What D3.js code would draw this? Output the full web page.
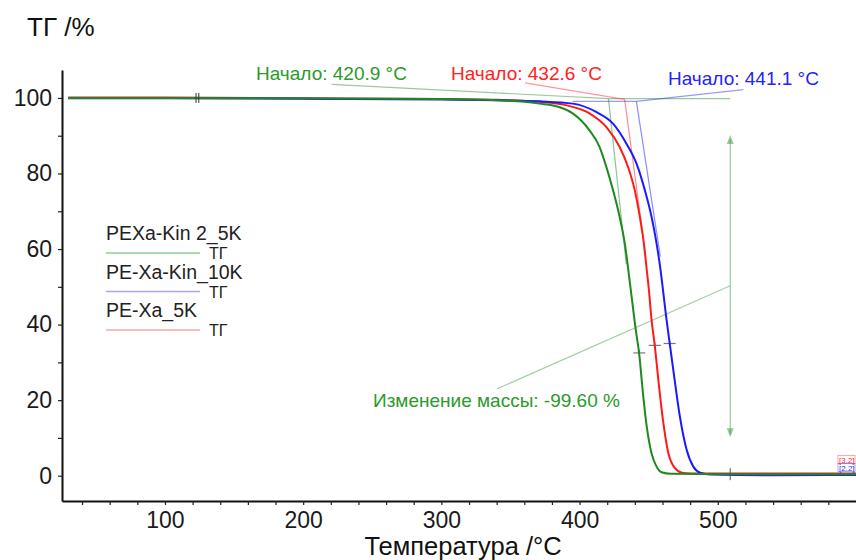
<!DOCTYPE html>
<html>
<head>
<meta charset="utf-8">
<script src="https://cdn.jsdelivr.net/npm/d3@7"></script>
<style>
  html, body { margin: 0; padding: 0; background: #fff; }
  svg { display: block; font-family: "Liberation Sans", Arial, sans-serif; }
</style>
</head>
<body>
<svg id="chart" width="856" height="560"></svg>
<script>
// TGA curves: temperature (°C) vs. residual mass (%)
const seriesNames = ["PEXa-Kin 2_5K", "PE-Xa-Kin_10K", "PE-Xa_5K"];
const seriesColors = ["#1e8a1e", "#1a1aff", "#ff1a1a"];
const legendColors = ["#8fd08f", "#a8a8f4", "#f4a8a8"];

const greenTG = [
  [30, 100.0], [100, 100.0], [200, 99.9], [300, 99.7], [340, 99.4], [360, 99.0],
  [371, 98.5], [385, 97.6], [395, 95.9], [407, 91.5], [414.5, 87.0], [419.4, 81.7],
  [424.2, 75.6], [429, 68.5], [432.7, 61.5], [436.2, 51.7], [440.3, 39.5],
  [443.2, 32.0], [445.8, 22.0], [448.4, 13.5], [452, 6.0], [455.7, 2.4],
  [459.3, 0.9], [466, 0.5], [520, 0.4], [600, 0.4]
];
const blueTG = [
  [30, 99.9], [100, 99.9], [200, 99.8], [300, 99.6], [340, 99.4], [371, 99.1],
  [395, 98.5], [412, 96.3], [424.2, 93.2], [433.9, 87.9], [441.2, 82.6],
  [447.2, 75.6], [452.1, 68.5], [455.7, 61.5], [458.6, 54.4], [460.4, 49.0],
  [462.4, 42.8], [465.2, 35.0], [468.8, 25.3], [472.6, 15.6], [477.5, 6.8],
  [482.3, 2.4], [487.2, 0.8], [495, 0.3], [540, 0.1], [600, 0.2]
];
const redTG = [
  [30, 100.1], [100, 100.1], [200, 99.9], [300, 99.7], [340, 99.5], [371, 99.0],
  [390, 98.1], [407.3, 95.9], [419.4, 92.3], [429, 87.0], [435.1, 81.7],
  [439.9, 75.6], [443.6, 68.5], [446.5, 61.5], [448.6, 54.5], [450.2, 49.0],
  [452, 41.5], [454.4, 34.5], [457, 25.3], [460.6, 14.0], [464.2, 6.0],
  [469, 2.0], [474, 0.8], [480, 0.6], [600, 0.6]
];
const curves = [greenTG, blueTG, redTG];
const drawOrder = [2, 1, 0];

// Onset evaluations: [onset °C, baseline %, tangent slope %/°C, tangent end %]
const onsetGreen = [420.9, 99.8, -3.4, 56];
const onsetRed = [432.6, 99.6, -2.72, 58];
const onsetBlue = [441.1, 99.1, -2.37, 58];
// Inflection markers [°C, %]
const markers = [[443.2, 32.5], [454.4, 34.5], [465.2, 35.0]];
const massChange = -99.60;

const xTicks = d3.range(40, 600, 20);
const yTicks = d3.range(0, 101, 10);

const svg = d3.select("#chart");
const x = d3.scaleLinear().domain([25.5, 600]).range([62, 856]);
const y = d3.scaleLinear().domain([-6.7, 107.4]).range([501, 70]);

// Axes
const xAxis = d3.axisBottom(x)
  .tickValues(xTicks)
  .tickSize(4).tickSizeOuter(0).tickPadding(7)
  .tickFormat(d => d % 100 === 0 ? d : "");
const gx = svg.append("g").attr("transform", `translate(0,${y.range()[0]})`).call(xAxis);
gx.select(".domain").attr("stroke", "#111").attr("stroke-width", 2);
gx.selectAll(".tick line").attr("stroke", "#222").attr("stroke-width", 1.2);
gx.selectAll(".tick text").attr("font-size", 23).attr("fill", "#1a1a1a")
  .attr("font-family", "Liberation Sans, Arial, sans-serif");

const yAxis = d3.axisLeft(y)
  .tickValues(yTicks)
  .tickSize(4).tickSizeOuter(0).tickPadding(6)
  .tickFormat(d => d % 20 === 0 ? d : "");
const gy = svg.append("g").attr("transform", `translate(${x.range()[0]},0)`).call(yAxis);
gy.select(".domain").attr("stroke", "#111").attr("stroke-width", 2);
gy.selectAll(".tick line").attr("stroke", "#222").attr("stroke-width", 1.2);
gy.selectAll(".tick text").attr("font-size", 23).attr("fill", "#1a1a1a")
  .attr("font-family", "Liberation Sans, Arial, sans-serif");

svg.append("text").attr("x", 27).attr("y", 36).attr("font-size", 26)
  .attr("fill", "#111").text("ТГ /%");
svg.append("text").attr("x", 463).attr("y", 555).attr("font-size", 25.5)
  .attr("text-anchor", "middle").attr("fill", "#111").text("Температура /°C");

const ann = svg.append("g");
const seg = (t1, m1, t2, m2, color, op, w) =>
  ann.append("line").attr("x1", x(t1)).attr("y1", y(m1)).attr("x2", x(t2)).attr("y2", y(m2))
    .attr("stroke", color).attr("stroke-opacity", op).attr("stroke-width", w || 1.2);

// Onset construction lines (leader, baseline, tangent)
function onset(o, color, leaderFrom, baseFrom, baseTo) {
  const [t0, m0, k, mEnd] = o;
  seg(leaderFrom[0], leaderFrom[1], t0, m0, color, 0.45);
  seg(baseFrom, m0, baseTo, m0, color, 0.45);
  seg(t0, m0, t0 + (mEnd - m0) / k, mEnd, color, 0.5);
}
onset(onsetGreen, seriesColors[0], [220.6, 103.6], 420.9, 509);
onset(onsetRed, seriesColors[2], [360.5, 104.0], 432.6, 432.6);
onset(onsetBlue, seriesColors[1], [518.5, 102.2], 395, 441.1);

// Mass change arrow and its leader
const arrowT = 509;
seg(arrowT, 89, arrowT, 11, seriesColors[0], 0.45);
const head = (m, dir) => {
  const px = x(arrowT), py = y(m);
  ann.append("path")
    .attr("d", `M${px},${py} L${px - 3.5},${py + dir * 9} L${px + 3.5},${py + dir * 9} Z`)
    .attr("fill", seriesColors[0]).attr("fill-opacity", 0.45);
};
head(90.2, 1);
head(10.2, -1);
seg(340.3, 23.0, arrowT, 50.3, seriesColors[0], 0.4);

// Curves
const line = d3.line().x(d => x(d[0])).y(d => y(d[1])).curve(d3.curveMonotoneX);
drawOrder.forEach(i => {
  svg.append("path").datum(curves[i]).attr("d", line)
    .attr("fill", "none").attr("stroke", seriesColors[i]).attr("stroke-width", 2);
});

// Inflection markers
markers.forEach(([t, m]) => {
  ann.append("line").attr("x1", x(t) - 6).attr("x2", x(t) + 6).attr("y1", y(m)).attr("y2", y(m))
    .attr("stroke", "#777").attr("stroke-width", 1.2);
  ann.append("line").attr("x1", x(t)).attr("x2", x(t)).attr("y1", y(m) - 3).attr("y2", y(m) + 3)
    .attr("stroke", "#555").attr("stroke-width", 1);
});
// segment marks on the curves
[122.5, 124.5].forEach(t => {
  svg.append("line").attr("x1", x(t)).attr("x2", x(t)).attr("y1", y(100) - 5).attr("y2", y(100) + 5)
    .attr("stroke", "#333").attr("stroke-width", 1);
});
svg.append("line").attr("x1", x(arrowT)).attr("x2", x(arrowT))
  .attr("y1", y(0.4) - 6).attr("y2", y(0.4) + 6).attr("stroke", "#555").attr("stroke-width", 1);

// Annotation labels
const label = (t, px, py, color) => svg.append("text").attr("x", px).attr("y", py)
  .attr("font-size", 19).attr("fill", color).text(t);
label(`Начало: ${onsetGreen[0].toFixed(1)} °C`, 256, 80, "#2a9a2a");
label(`Начало: ${onsetRed[0].toFixed(1)} °C`, 451, 80, "#ff2222");
label(`Начало: ${onsetBlue[0].toFixed(1)} °C`, 668, 85, "#2222ff");
label(`Изменение массы: ${massChange.toFixed(2)} %`, 373, 407, "#2a9a2a");

// End tags
const tags = [["[3.2]", "#ff3333", 463], ["[2.2]", "#3333ff", 471]];
tags.forEach(([t, c, py]) => {
  svg.append("rect").attr("x", 838).attr("y", py - 7.5).attr("width", 17).attr("height", 8)
    .attr("fill", "none").attr("stroke", c).attr("stroke-width", 0.6).attr("stroke-opacity", 0.7);
  svg.append("text").attr("x", 839).attr("y", py).attr("font-size", 8).attr("fill", c).text(t);
});

// Legend
const lg = svg.append("g");
seriesNames.forEach((n, i) => {
  const by = 240 + i * 38.5;
  lg.append("text").attr("x", 106).attr("y", by).attr("font-size", 19.5).attr("fill", "#222").text(n);
  lg.append("line").attr("x1", 106).attr("x2", 200).attr("y1", by + 13).attr("y2", by + 13)
    .attr("stroke", legendColors[i]).attr("stroke-width", 1.5);
  lg.append("text").attr("x", 209).attr("y", by + 19).attr("font-size", 16).attr("fill", "#222").text("ТГ");
});
</script>
</body>
</html>
